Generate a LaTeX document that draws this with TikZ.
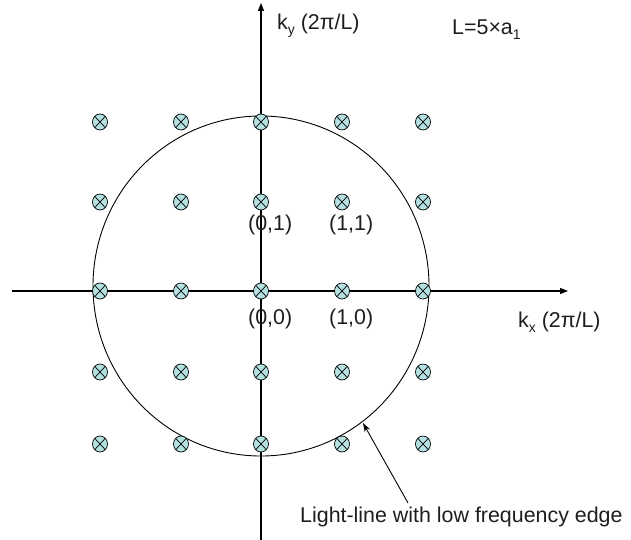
\documentclass[tikz,border=0pt]{standalone}
\usepackage{fontspec}
\setmainfont{Liberation Sans}
\usetikzlibrary{arrows.meta,shapes.geometric}
\definecolor{markfill}{RGB}{180,224,226}
\definecolor{txt}{RGB}{30,30,30}
\newcommand{\lowsub}[1]{\raisebox{-5pt}{\fontsize{14}{16}\selectfont #1}}
\tikzset{
  axis/.style={line width=1.1pt,-{Triangle[length=8pt,width=6pt]}},
  lattice/.style={draw,ellipse,fill=markfill,line width=0.7pt,inner sep=0pt,
    minimum width=15pt,minimum height=16pt,
    path picture={\draw[line width=0.7pt] (path picture bounding box.north west) -- (path picture bounding box.south east)
      (path picture bounding box.north east) -- (path picture bounding box.south west);}},
  lbl/.style={anchor=base west,inner sep=0pt,text=txt,font=\fontsize{21.4}{25}\selectfont},
  pointer/.style={line width=0.9pt,-{Stealth[length=9pt,width=6pt]}}
}
\begin{document}
\begin{tikzpicture}[x=1pt,y=-1pt]
\useasboundingbox (0,0) rectangle (631,540);
% axes
\coordinate (xl) at (12,291);
\coordinate (xr) at (568,291);
\coordinate (yb) at (261,540);
\coordinate (yt) at (261,3);
\draw[axis] (xl) -- (xr);
\draw[axis] (yb) -- (yt);
% light-line circle
\draw[line width=0.9pt] (261,286) ellipse [x radius=168, y radius=170];
% lattice points
\foreach \y [count=\j] in {122,202,291,372,444}{
  \foreach \x [count=\i] in {100,181,261,342,423}{
    \node[lattice] (m-\i-\j) at (\x,\y) {};
  }
}
% labels
\node[lbl] (ky) at (277,30) {k\lowsub{y} (2π/L)};
\node[lbl] (Ldef) at (452,35) {L=5×a\lowsub{1}};
\node[lbl] (kx) at (518,327) {k\lowsub{x} (2π/L)};
\node[lbl] (p01) at (248,230) {(0,1)};
\node[lbl] (p11) at (329,230) {(1,1)};
\node[lbl] (p00) at (248,324) {(0,0)};
\node[lbl] (p10) at (329,324) {(1,0)};
\node[lbl] (edge) at (300,522) {Light-line with low frequency edge};
% pointer
\coordinate (tail) at (408,503);
\coordinate (tip) at (363,423);
\draw[pointer] (tail) -- (tip);
\end{tikzpicture}
\end{document}
